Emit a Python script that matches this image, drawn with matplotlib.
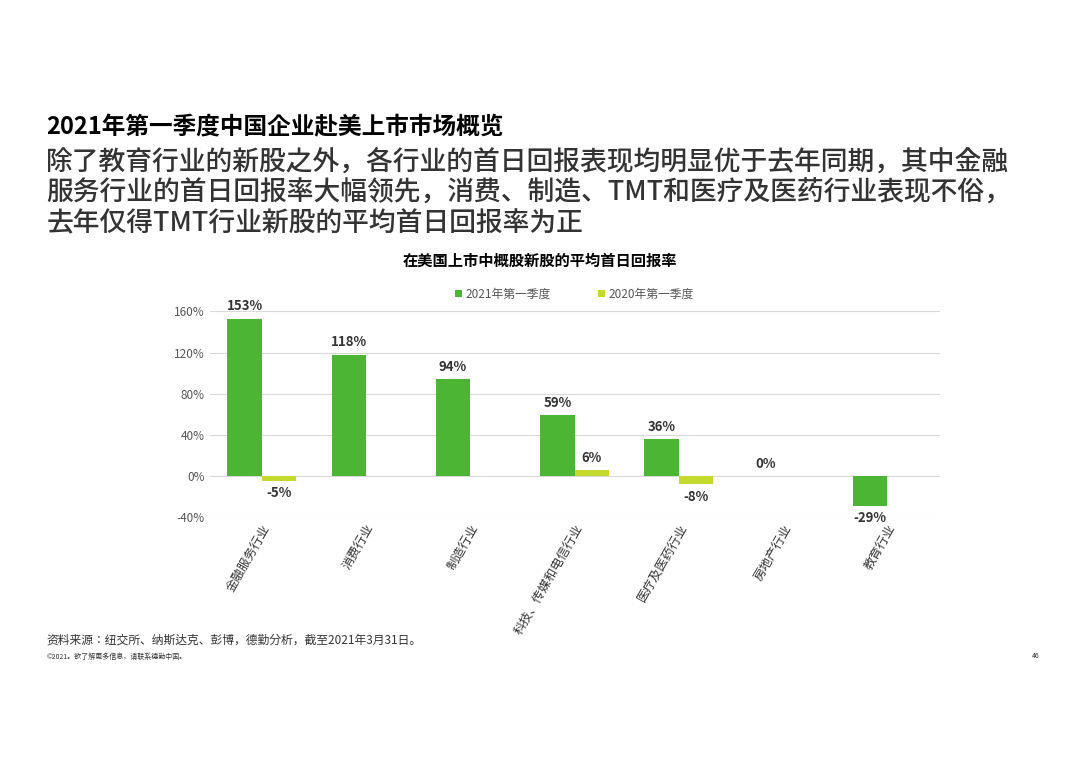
import matplotlib
matplotlib.use("Agg")
import matplotlib.pyplot as plt
from matplotlib import font_manager
import numpy as np

names = sorted({f.name for f in font_manager.fontManager.ttflist if 'CJK' in f.name})
plt.rcParams['font.family'] = names + ['DejaVu Sans']

categories = ["金融服务行业", "消费行业", "制造行业", "科技、传媒和电信行业", "医疗及医药行业", "房地产行业", "教育行业"]
q1_2021 = [153, 118, 94, 59, 36, 0, -29]
q1_2020 = [-5, None, None, 6, -8, None, None]
yticks = [-40, 0, 40, 80, 120, 160]

fig = plt.figure(figsize=(10.8, 7.63), dpi=100)
fig.text(0.043, 0.824, "2021年第一季度中国企业赴美上市市场概览", fontsize=17, fontweight='bold', color='black')
fig.text(0.043, 0.804,
         "除了教育行业的新股之外，各行业的首日回报表现均明显优于去年同期，其中金融\n服务行业的首日回报率大幅领先，消费、制造、TMT和医疗及医药行业表现不俗，\n去年仅得TMT行业新股的平均首日回报率为正",
         fontsize=19.3, color='#333333', linespacing=1.17, fontweight='medium', va='top')
fig.text(0.5, 0.652, "在美国上市中概股新股的平均首日回报率", fontsize=11, fontweight='bold', ha='center')

ax = fig.add_axes([0.194, 0.322, 0.676, 0.270])
x = np.arange(len(categories))
w = 0.33
g = '#4db534'
y2 = '#c5d92d'
ax.bar(x - w/2, q1_2021, w, color=g, label="2021年第一季度")
v20 = [v if v is not None else 0 for v in q1_2020]
ax.bar(x + w/2, v20, w, color=y2, label="2020年第一季度")
for xi, v in zip(x, q1_2021):
    ax.text(xi - w/2, v + 5 if v >= 0 else v - 5, f"{v}%", ha='center',
            va='bottom' if v >= 0 else 'top', fontsize=9.5, fontweight='bold', color='#333333')
for xi, v in zip(x, q1_2020):
    if v is None:
        continue
    ax.text(xi + w/2, v + 5 if v >= 0 else v - 5, f"{v}%", ha='center',
            va='bottom' if v >= 0 else 'top', fontsize=9.5, fontweight='bold', color='#333333')

ax.set_ylim(-40, 160)
ax.set_xlim(-0.5, len(categories) - 0.5)
ax.set_yticks(yticks)
ax.set_yticklabels([f"{t}%" for t in yticks], fontsize=8.5, color='#555555')
ax.yaxis.grid(True, color='#d9d9d9', lw=0.8)
ax.set_axisbelow(True)
for s in ax.spines.values():
    s.set_visible(False)
ax.tick_params(length=0)
ax.set_xticks(x)
ax.set_xticklabels(categories, rotation=60, ha='right', rotation_mode='anchor', fontsize=9, color='#333333')
ax.legend(loc='lower center', bbox_to_anchor=(0.5, 1.0), ncol=2, frameon=False, fontsize=8.5,
          handlelength=0.6, handleheight=0.6, columnspacing=4, handletextpad=0.3, labelcolor='#555555')

fig.text(0.043, 0.157, "资料来源：纽交所、纳斯达克、彭博，德勤分析，截至2021年3月31日。", fontsize=8.5, color='#333333')
fig.text(0.043, 0.137, "©2021。欲了解更多信息，请联系德勤中国。", fontsize=5, color='#333333')
fig.text(0.955, 0.137, "46", fontsize=5, color='#333333')

fig.savefig("out.png", dpi=100)
